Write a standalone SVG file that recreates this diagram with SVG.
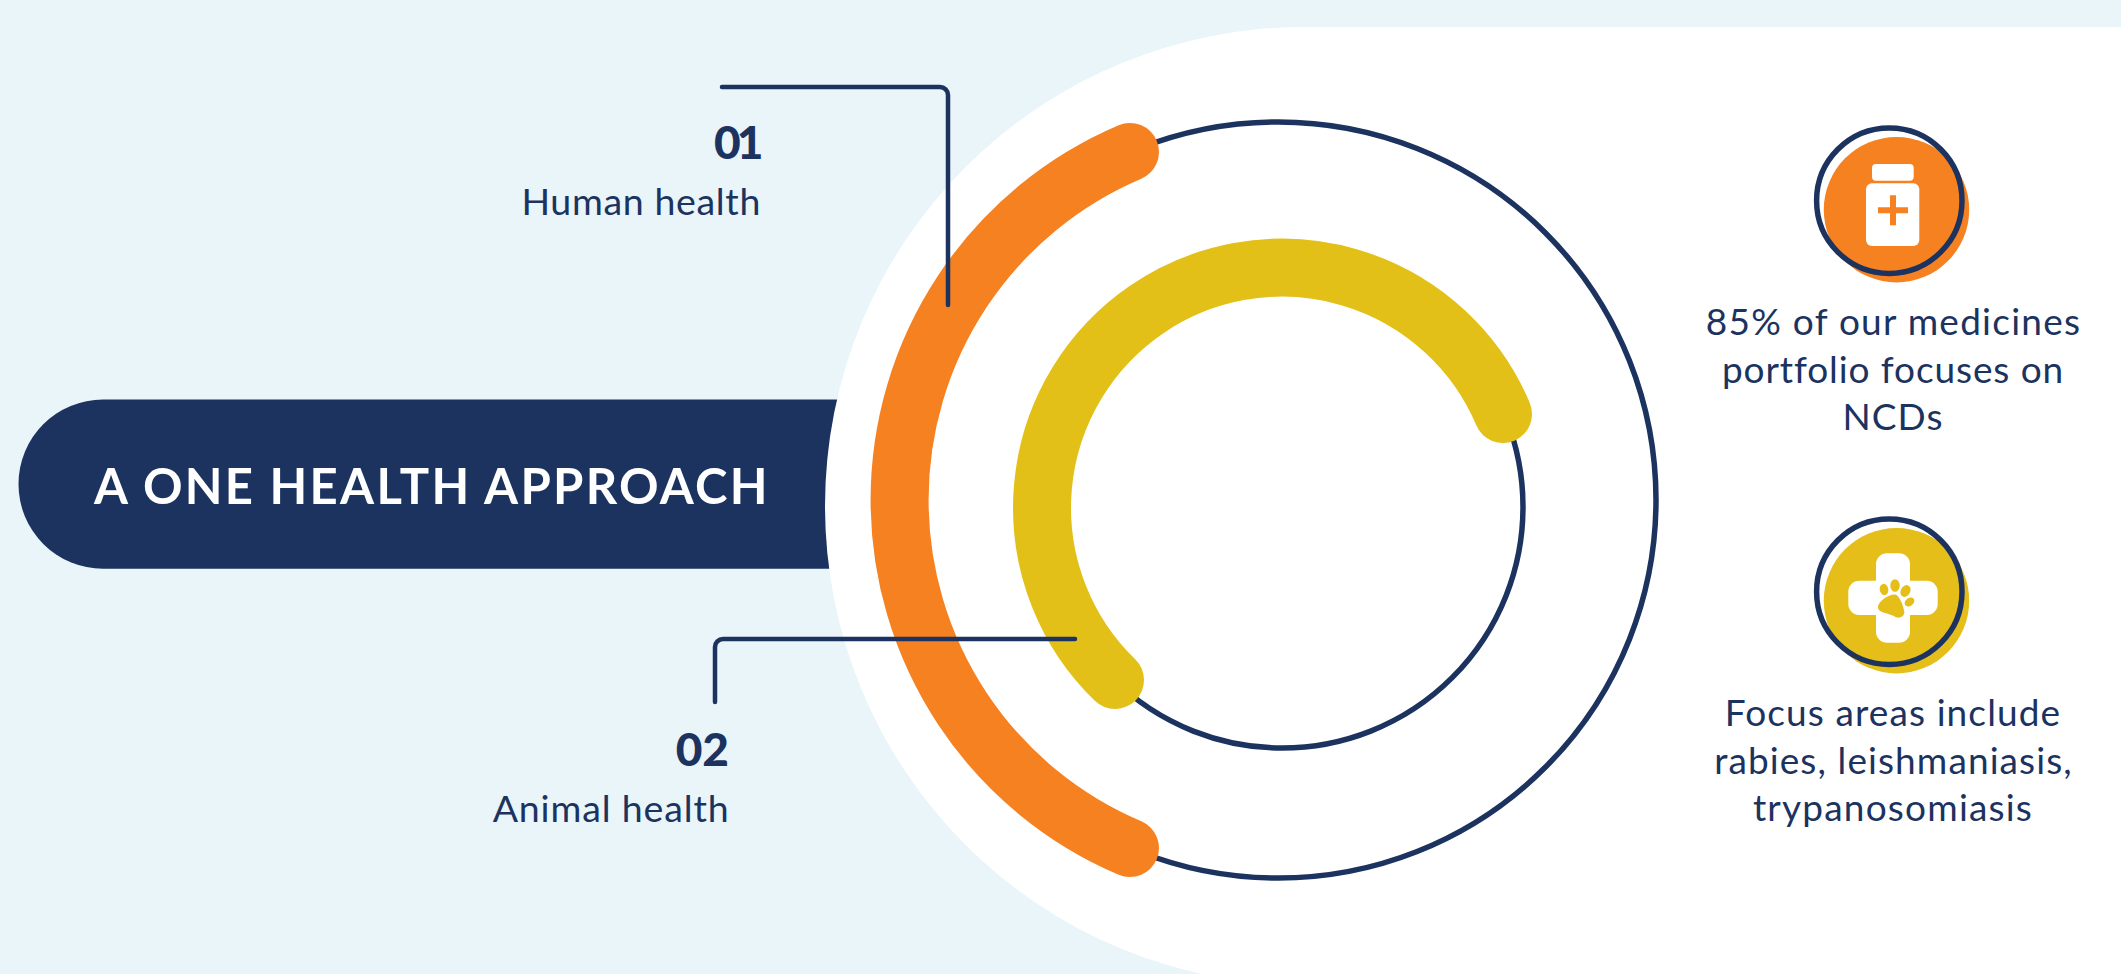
<svg xmlns="http://www.w3.org/2000/svg" width="2121" height="974" viewBox="0 0 2121 974">
<style>
text{font-family:"Lato","Liberation Sans",sans-serif;fill:#1c3360}
.body{font-size:37.500px;letter-spacing:.65px}
.num{font-size:46px;font-weight:900}
.side{font-size:37px;text-anchor:middle;letter-spacing:1.100px}
.navy{fill:none;stroke:#1c3360;stroke-linecap:round;stroke-linejoin:round}
</style>
<rect width="2121" height="974" fill="#e9f5f9"/>
<g id="title">
<path d="M103 399.500H1000V568.700H103A84.500 84.600 0 0 1 103 399.500Z" fill="#1c3360"/>
</g>
<path id="panel" d="M2121 27H1304A479 479 0 0 0 825 506A479 479 0 0 0 1304 985H2121Z" fill="#fff"/>
<text x="94" y="503.700" font-size="49" font-weight="700" letter-spacing="2.300" style="fill:#fff">A ONE HEALTH APPROACH</text>
<g id="rings">
<circle class="navy" cx="1278" cy="500" r="378" stroke-width="5.500"/>
<circle class="navy" cx="1282" cy="507" r="241" stroke-width="5.500"/>
<path d="M1130 152A378 378 0 0 0 1130 848" fill="none" stroke="#f68121" stroke-width="58" stroke-linecap="round"/>
<path d="M1503 414A240 240 0 1 0 1115 680" fill="none" stroke="#e3c018" stroke-width="58" stroke-linecap="round"/>
</g>
<g id="connectors">
<path class="navy" stroke-width="4.500" d="M722 87H940A8 8 0 0 1 948 95V305"/>
<path class="navy" stroke-width="4.500" d="M1075 639H723A8 8 0 0 0 715 647V702"/>
</g>
<g id="node-01">
<text class="num" x="714" y="158.700" letter-spacing="-4">01</text>
<text class="body" x="761" y="214.500" text-anchor="end">Human health</text>
</g>
<g id="node-02">
<text class="num" x="729" y="766" text-anchor="end">02</text>
<text class="body" x="729.500" y="821.500" text-anchor="end" style="letter-spacing:.85px">Animal health</text>
</g>
<g id="icon-medicine">
<circle cx="1896.500" cy="209.700" r="72.700" fill="#f68121"/>
<circle cx="1889.300" cy="200.700" r="72.700" fill="none" stroke="#1c3360" stroke-width="5.500"/>
<rect x="1872" y="164" width="41.700" height="16.700" rx="4" fill="#fff"/>
<rect x="1866" y="183.300" width="53.300" height="62.700" rx="6" fill="#fff"/>
<path d="M1878 207.300h12v-12h6v12h12v6h-12v12h-6v-12h-12z" fill="#f68121"/>
</g>
<g id="text-medicine">
<text class="side" x="1893.500" y="335" style="letter-spacing:1.250px">85% of our medicines</text>
<text class="side" x="1893" y="383" style="letter-spacing:.9px">portfolio focuses on</text>
<text class="side" x="1893" y="430">NCDs</text>
</g>
<g id="icon-animal">
<circle cx="1896.500" cy="600.700" r="72.700" fill="#e5be1a"/>
<circle cx="1889.300" cy="591.700" r="72.700" fill="none" stroke="#1c3360" stroke-width="5.500"/>
<rect x="1848.300" y="580.700" width="89.400" height="34.300" rx="11" fill="#fff"/>
<rect x="1876" y="553.300" width="34" height="89.400" rx="11" fill="#fff"/>
<g fill="#e5be1a">
<ellipse cx="1884" cy="589.500" rx="4.300" ry="5.700" transform="rotate(-10 1884 589.500)"/>
<ellipse cx="1895" cy="585.500" rx="4.700" ry="6.300"/>
<ellipse cx="1905.500" cy="591" rx="4.700" ry="6.200" transform="rotate(30 1905.500 591)"/>
<ellipse cx="1909.500" cy="602" rx="5.300" ry="3.900" transform="rotate(-35 1909.500 602)"/>
<path d="M1878 606C1879.300 601.300 1888.300 593.800 1895.500 594.500C1900 596.300 1903.700 606.700 1904.300 612C1904.300 617 1899 618.800 1895.500 617C1890 613.500 1883.300 612.900 1880.500 611.200C1878.400 610 1877.700 608.300 1878 606Z"/>
</g>
</g>
<g id="text-animal">
<text class="side" x="1893" y="726">Focus areas include</text>
<text class="side" x="1893.500" y="774" style="letter-spacing:1.100px">rabies, leishmaniasis,</text>
<text class="side" x="1893" y="821" style="letter-spacing:1.200px">trypanosomiasis</text>
</g>
</svg>
